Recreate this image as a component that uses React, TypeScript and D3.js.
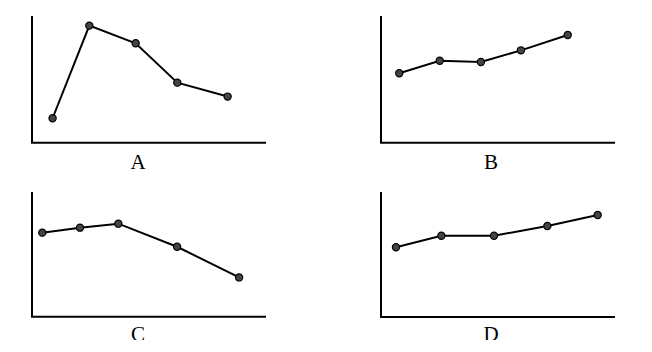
import React from "react";
import * as d3 from "d3";

// panel labels
const labels = ["A", "B", "C", "D"];

// x positions of the 5 points (0-100 along the x axis) for each panel
const xA = [8.8, 24.5, 44.3, 62.1, 83.6];
const xB = [7.8, 25.1, 42.7, 59.8, 79.8];
const xC = [4.4, 20.5, 36.9, 62.0, 88.5];
const xD = [6.4, 25.8, 48.3, 71.1, 92.6];

// y values (0-100) for each panel
const yA = [19.3, 92.4, 78.5, 47.4, 36.4];
const yB = [54.8, 64.7, 63.7, 72.9, 85.0];
const yC = [67.4, 71.4, 74.6, 56.1, 31.5];
const yD = [55.8, 65.0, 65.0, 72.8, 81.6];

const xs = [xA, xB, xC, xD];
const ys = [yA, yB, yC, yD];

// panel boxes: left, right, top, bottom of the axes + label position
const boxes = [
  { x0: 32, x1: 266, y0: 16, y1: 142.7, lx: 138, ly: 169 },
  { x0: 381, x1: 615, y0: 16, y1: 142.7, lx: 491, ly: 169 },
  { x0: 32, x1: 266, y0: 192, y1: 316.7, lx: 138, ly: 341 },
  { x0: 381, x1: 615, y0: 192, y1: 317, lx: 491, ly: 341 },
];

const Panel = ({ i }: { i: number }) => {
  const b = boxes[i];
  const x = d3.scaleLinear().domain([0, 100]).range([b.x0, b.x1]);
  const y = d3.scaleLinear().domain([0, 100]).range([b.y1, b.y0]);
  const pts = xs[i].map((v, k) => [v, ys[i][k]] as [number, number]);
  const line = d3
    .line<[number, number]>()
    .x((d) => x(d[0]))
    .y((d) => y(d[1]));

  return (
    <g>
      {/* axes */}
      <path
        d={`M${b.x0},${b.y0}V${b.y1}H${b.x1}`}
        fill="none"
        stroke="#000"
        strokeWidth={2}
      />
      <path d={line(pts) || ""} fill="none" stroke="#000" strokeWidth={2} />
      {pts.map((d, k) => (
        <circle
          key={k}
          cx={x(d[0])}
          cy={y(d[1])}
          r={3.6}
          fill="#444"
          stroke="#000"
          strokeWidth={1.2}
        />
      ))}
      <text
        x={b.lx}
        y={b.ly}
        textAnchor="middle"
        fontFamily="'Liberation Serif', 'Times New Roman', serif"
        fontSize={21}
        fill="#000"
        clipPath="url(#crop)"
      >
        {labels[i]}
      </text>
    </g>
  );
};

export default function App() {
  return (
    <svg
      width={652}
      height={352}
      style={{ position: "absolute", left: 0, top: 0, background: "#fff" }}
    >
      <defs>
        {/* the source picture is cut just under the bottom labels */}
        <clipPath id="crop" clipPathUnits="userSpaceOnUse">
          <rect x={0} y={0} width={652} height={340} />
        </clipPath>
      </defs>
      {labels.map((_, i) => (
        <Panel key={i} i={i} />
      ))}
    </svg>
  );
}
